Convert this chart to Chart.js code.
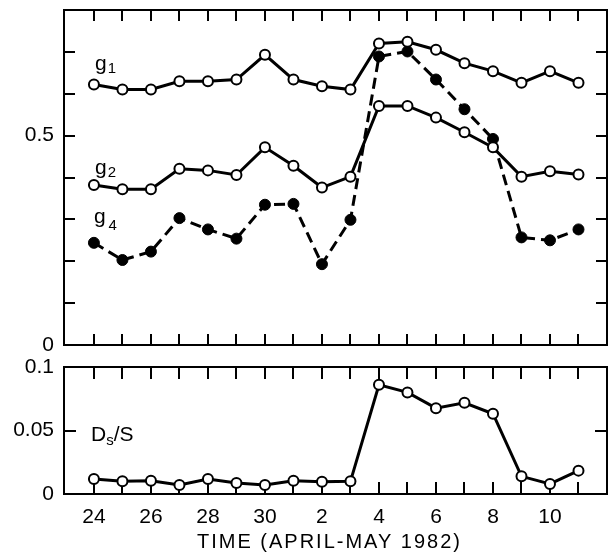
<!DOCTYPE html>
<html>
<head>
<meta charset="utf-8">
<script src="https://cdn.jsdelivr.net/npm/chart.js@4.4.1/dist/chart.umd.min.js"></script>
<style>
  html, body { margin: 0; padding: 0; background: #fff; overflow: hidden; }
  #topChart { position: absolute; left: 0; top: 0; }
  #bottomChart { position: absolute; left: 0; top: 355px; }
</style>
</head>
<body>
<canvas id="topChart" width="614" height="355"></canvas>
<canvas id="bottomChart" width="614" height="203"></canvas>
<script>
// days, 24 April .. 11 May 1982
const days = [24, 25, 26, 27, 28, 29, 30, 1, 2, 3, 4, 5, 6, 7, 8, 9, 10, 11];

const g1 = [0.622, 0.610, 0.610, 0.630, 0.630, 0.634, 0.693, 0.634, 0.618, 0.610,
            0.720, 0.724, 0.705, 0.673, 0.654, 0.626, 0.654, 0.626];
const g2 = [0.382, 0.372, 0.372, 0.421, 0.417, 0.406, 0.472, 0.428, 0.376, 0.402,
            0.571, 0.571, 0.543, 0.508, 0.472, 0.402, 0.415, 0.407];
const g4 = [0.244, 0.203, 0.223, 0.303, 0.276, 0.254, 0.335, 0.337, 0.193, 0.299,
            0.689, 0.701, 0.634, 0.563, 0.492, 0.257, 0.250, 0.276];
const dsOverS = [0.0118, 0.0100, 0.0105, 0.0071, 0.0118, 0.0087, 0.0071, 0.0105, 0.0097, 0.0100,
                 0.0860, 0.0800, 0.0676, 0.0718, 0.0632, 0.0139, 0.0079, 0.0184];

const topYLabels = [0, 0.5];
const topYTicks = [0.1, 0.2, 0.3, 0.4, 0.5, 0.6, 0.7];
const bottomYLabels = [0, 0.05, 0.1];
const bottomYTicks = [0.05];
const xTitle = 'TIME (APRIL-MAY 1982)';

const FONT = "'Liberation Sans', Arial, Helvetica, sans-serif";

function pts(arr) {
  return arr.map((v, i) => ({ x: i, y: v }));
}

// frame + inward tick marks on all four sides
const frameTicks = {
  id: 'frameTicks',
  beforeDatasetsDraw(chart, args, opts) {
    const { ctx, chartArea: a, scales: { x, y } } = chart;
    ctx.save();
    ctx.strokeStyle = '#000';
    ctx.lineWidth = 2;
    ctx.strokeRect(a.left, a.top, a.right - a.left, a.bottom - a.top);
    ctx.beginPath();
    days.forEach((d, i) => {
      const px = Math.round(x.getPixelForValue(i));
      ctx.moveTo(px, a.top); ctx.lineTo(px, a.top + opts.len);
      ctx.moveTo(px, a.bottom); ctx.lineTo(px, a.bottom - opts.len);
    });
    opts.yTicks.forEach(v => {
      const py = Math.round(y.getPixelForValue(v));
      ctx.moveTo(a.left, py); ctx.lineTo(a.left + opts.len, py);
      ctx.moveTo(a.right, py); ctx.lineTo(a.right - opts.len, py);
    });
    ctx.stroke();
    ctx.restore();
  }
};

// curve names with subscripts
const curveNames = {
  id: 'curveNames',
  afterDatasetsDraw(chart, args, opts) {
    const { ctx, scales: { x, y } } = chart;
    ctx.save();
    ctx.fillStyle = '#000';
    ctx.textBaseline = 'alphabetic';
    ctx.textAlign = 'left';
    (opts.items || []).forEach(it => {
      let px = x.getPixelForValue(it.x);
      const py = y.getPixelForValue(it.y);
      it.parts.forEach(p => {
        ctx.font = (p.sub ? '15px ' : '21px ') + FONT;
        px += p.gap || 0;
        ctx.fillText(p.t, px, py + (p.sub ? p.dy : 0));
        px += ctx.measureText(p.t).width;
      });
    });
    if (opts.title) {
      const a = chart.chartArea;
      ctx.font = '20px ' + FONT;
      ctx.letterSpacing = '2px';
      ctx.textAlign = 'center';
      ctx.fillText(opts.title, (a.left + a.right) / 2 - 6, chart.height - 10);
    }
    ctx.restore();
  }
};

const openPt = {
  borderColor: '#000', borderWidth: 3,
  pointRadius: 5, pointBorderWidth: 2,
  pointBackgroundColor: '#fff', pointBorderColor: '#000'
};

function yAxis(min, max, labels) {
  return {
    type: 'linear', min: min, max: max,
    afterBuildTicks: s => { s.ticks = labels.map(v => ({ value: v })); },
    afterFit: s => { s.width = 64; s.paddingTop = 0; s.paddingBottom = 0; },
    grid: { display: false, drawTicks: false },
    border: { display: false },
    ticks: { color: '#000', padding: 10, font: { family: FONT, size: 21 }, callback: v => String(v) }
  };
}

new Chart(document.getElementById('topChart'), {
  type: 'line',
  data: {
    datasets: [
      Object.assign({ label: 'g1', data: pts(g1) }, openPt),
      Object.assign({ label: 'g2', data: pts(g2) }, openPt),
      {
        label: 'g4', data: pts(g4),
        borderColor: '#000', borderWidth: 3, borderDash: [11, 6],
        pointRadius: 5.5, pointBorderWidth: 1,
        pointBackgroundColor: '#000', pointBorderColor: '#000'
      }
    ]
  },
  options: {
    responsive: false, animation: false, devicePixelRatio: 1,
    layout: { padding: { top: 10, right: 2, bottom: 10, left: 0 } },
    scales: {
      x: { type: 'linear', min: -1.05, max: 18, display: false },
      y: yAxis(0, 0.8, topYLabels)
    },
    plugins: {
      legend: { display: false }, tooltip: { enabled: false },
      frameTicks: { len: 11, yTicks: topYTicks },
      curveNames: {
        items: [
          { x: 0.04, y: 0.657, parts: [{ t: 'g' }, { t: '1', sub: true, dy: 3, gap: 1 }] },
          { x: 0.04, y: 0.408, parts: [{ t: 'g' }, { t: '2', sub: true, dy: 3, gap: 1 }] },
          { x: 0.0, y: 0.291, parts: [{ t: 'g' }, { t: '4', sub: true, dy: 7, gap: 3 }] }
        ]
      }
    }
  },
  plugins: [frameTicks, curveNames]
});

new Chart(document.getElementById('bottomChart'), {
  type: 'line',
  data: {
    datasets: [
      Object.assign({ label: 'Ds/S', data: pts(dsOverS) }, openPt)
    ]
  },
  options: {
    responsive: false, animation: false, devicePixelRatio: 1,
    layout: { padding: { top: 12, right: 2, bottom: 0, left: 0 } },
    scales: {
      x: {
        type: 'linear', min: -1.05, max: 18,
        afterBuildTicks: s => { s.ticks = days.map((d, i) => ({ value: i })); },
        afterFit: s => { s.height = 64; s.paddingLeft = 0; s.paddingRight = 0; },
        grid: { display: false, drawTicks: false },
        border: { display: false },
        ticks: {
          color: '#000', padding: 11, maxRotation: 0, autoSkip: false,
          font: { family: FONT, size: 21 },
          callback: v => (v % 2 === 0 ? String(days[v]) : '')
        }
      },
      y: yAxis(0, 0.1, bottomYLabels)
    },
    plugins: {
      legend: { display: false }, tooltip: { enabled: false },
      frameTicks: { len: 12, yTicks: bottomYTicks },
      curveNames: {
        items: [
          { x: -0.1, y: 0.0417, parts: [{ t: 'D' }, { t: 's', sub: true, dy: 4 }, { t: '/S' }] }
        ],
        title: xTitle
      }
    }
  },
  plugins: [frameTicks, curveNames]
});
</script>
</body>
</html>
